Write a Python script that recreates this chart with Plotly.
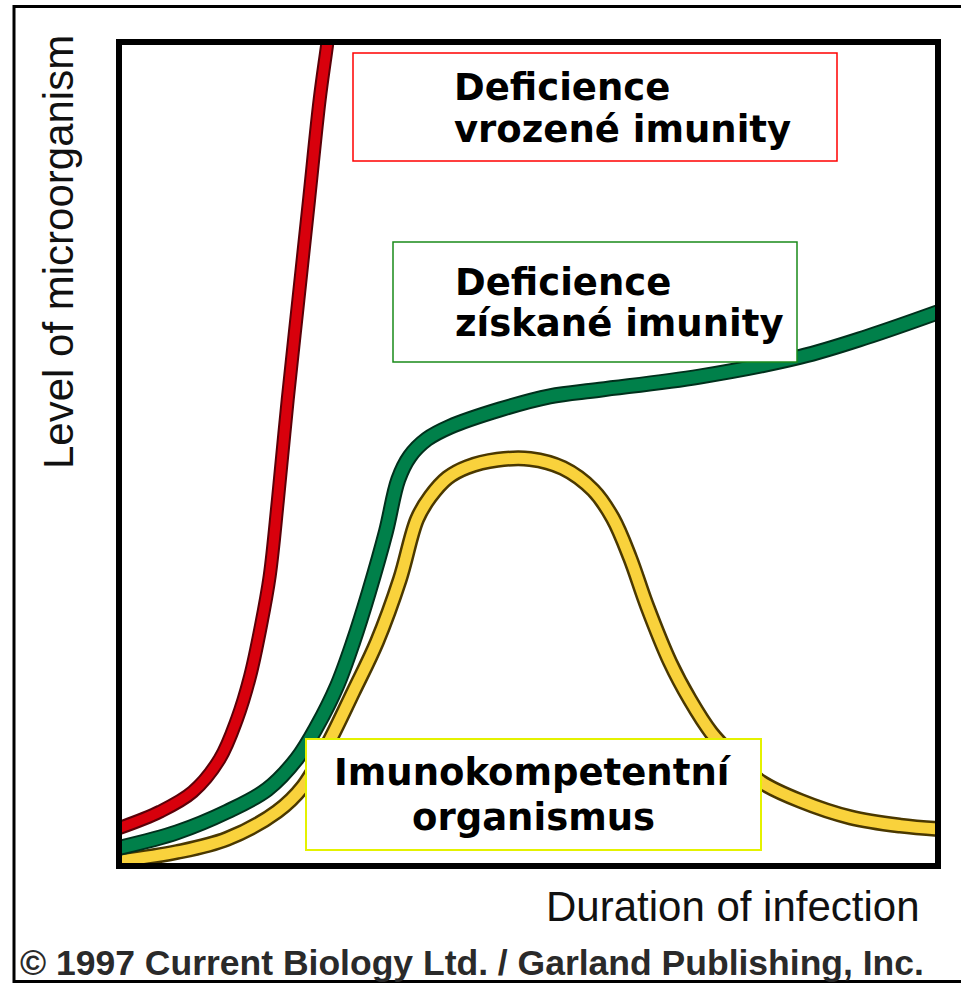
import plotly.graph_objects as go

# ---- data (duration of infection vs. level of microorganism, arbitrary units 0-100) ----
time_red = [0, 5.0, 9.0, 12.3, 14.4, 16.0, 17.3, 18.4, 19.4, 20.6, 21.9, 23.2, 24.5, 25.4, 25.8]
level_red = [4.6, 6.6, 9.0, 13.0, 17.8, 23.0, 29.0, 35.2, 44.4, 56.6, 68.7, 80.8, 93.0, 99.6, 102.7]

time_green = [0, 7.1, 13.2, 18.1, 21.7, 24.2, 26.6, 28.6, 30.5, 32.6, 34.1, 35.5, 37.6, 40.4,
              46.5, 52.6, 58.7, 70.9, 83.2, 91.3, 100]
level_green = [2.2, 4.1, 6.6, 9.3, 13.0, 17.0, 21.8, 27.2, 33.2, 40.6, 46.9, 49.7, 51.8, 53.3,
               55.4, 57.0, 57.8, 59.4, 61.8, 64.2, 67.2]

time_yellow = [0, 7.1, 13.2, 19.3, 22.5, 25.4, 28.6, 31.5, 34.3, 36.4, 38.0, 40.1, 42.5, 46.2,
               50.2, 54.2, 57.9, 60.3, 62.4, 64.5, 67.3, 69.7, 72.3, 75.3, 78.4, 83.2, 89.3,
               95.4, 100]
level_yellow = [0.6, 1.7, 3.3, 6.6, 9.7, 14.6, 21.1, 27.2, 34.8, 42.1, 44.8, 47.1, 48.4, 49.3,
                49.4, 48.3, 45.6, 42.2, 37.4, 31.5, 24.7, 20.2, 16.2, 13.0, 10.2, 7.9, 5.9,
                4.9, 4.5]

label_red = ["Deficience", "vrozené imunity"]
label_green = ["Deficience", "získané imunity"]
label_yellow = ["Imunokompetentní", "organismus"]
x_title = "Duration of infection"
y_title = "Level of microorganism"
credit = "© 1997 Current Biology Ltd. / Garland Publishing, Inc."

# ---- layout geometry ----
W, H = 961, 986
L, R, T, B = 119, 938, 42, 866


def px(x):
    return (x - L) / (R - L)


def py(y):
    return (B - y) / (B - T)


fig = go.Figure()

series = [
    (time_yellow, level_yellow, "#4a3800", "#f9d23c", 16, 11),
    (time_green, level_green, "#00301c", "#00804a", 16, 12),
    (time_red, level_red, "#5a0008", "#d8000c", 14, 10),
]
for xs, ys, dark, fill, w_out, w_in in series:
    fig.add_trace(go.Scatter(x=xs, y=ys, mode="lines",
                             line=dict(color=dark, width=w_out, shape="spline", smoothing=1.0),
                             hoverinfo="skip", showlegend=False))
    fig.add_trace(go.Scatter(x=xs, y=ys, mode="lines",
                             line=dict(color=fill, width=w_in, shape="spline", smoothing=1.0),
                             hoverinfo="skip", showlegend=False))

shapes = []
# outer frame (right side lies outside the page)
shapes.append(dict(type="rect", xref="paper", yref="paper",
                   x0=px(14), x1=px(990), y0=py(981.5), y1=py(6.5),
                   line=dict(color="black", width=3), fillcolor="rgba(0,0,0,0)", layer="above"))
# plot frame
shapes.append(dict(type="rect", xref="paper", yref="paper", x0=0, x1=1, y0=0, y1=1,
                   line=dict(color="black", width=6), fillcolor="rgba(0,0,0,0)", layer="above"))
# label boxes
boxes = [
    ((353, 53, 837, 161), "#ff0000", 1.5),
    ((393, 242, 797, 362), "#1a8a1a", 1.5),
    ((306, 739, 761, 850), "#e4f200", 2),
]
for (x0, y0, x1, y1), col, lw in boxes:
    shapes.append(dict(type="rect", xref="paper", yref="paper",
                       x0=px(x0), x1=px(x1), y0=py(y1), y1=py(y0),
                       line=dict(color=col, width=lw), fillcolor="white", layer="above"))

annotations = []
box_font = dict(family="DejaVu Sans", size=37, color="black")
for txt, (x, y) in zip(label_red, [(452, 87), (452, 130)]):
    annotations.append(dict(text="<b>%s</b>" % txt, x=px(x), y=py(y), xref="paper", yref="paper",
                            xanchor="left", yanchor="middle", showarrow=False, font=box_font))
for txt, (x, y) in zip(label_green, [(453, 282), (453, 324)]):
    annotations.append(dict(text="<b>%s</b>" % txt, x=px(x), y=py(y), xref="paper", yref="paper",
                            xanchor="left", yanchor="middle", showarrow=False, font=box_font))
for txt, (x, y) in zip(label_yellow, [(533, 772), (533, 817)]):
    annotations.append(dict(text="<b>%s</b>" % txt, x=px(x), y=py(y), xref="paper", yref="paper",
                            xanchor="center", yanchor="middle", showarrow=False, font=box_font))

axis_font = dict(family="Liberation Sans", size=42, color="#111111")
annotations.append(dict(text=x_title, x=px(922), y=py(907), xref="paper", yref="paper",
                        xanchor="right", yanchor="middle", showarrow=False, font=axis_font))
annotations.append(dict(text=y_title, x=px(58), y=py(252), xref="paper", yref="paper",
                        xanchor="center", yanchor="middle", textangle=-90, showarrow=False,
                        font=axis_font))
annotations.append(dict(text="<b>%s</b>" % credit, x=px(472), y=py(963), xref="paper", yref="paper",
                        xanchor="center", yanchor="middle", showarrow=False,
                        font=dict(family="Liberation Sans", size=35.5, color="#2a2a2a")))

fig.update_layout(
    width=W, height=H,
    margin=dict(l=L, r=W - R, t=T, b=H - B, pad=0),
    paper_bgcolor="white", plot_bgcolor="white",
    showlegend=False,
    xaxis=dict(range=[0, 100], showgrid=False, zeroline=False, showticklabels=False,
               ticks="", showline=False, fixedrange=True),
    yaxis=dict(range=[0, 100], showgrid=False, zeroline=False, showticklabels=False,
               ticks="", showline=False, fixedrange=True),
    shapes=shapes,
    annotations=annotations,
)

fig.write_html("out.html", config={"displayModeBar": False},
               post_script="document.body.style.margin='0';document.body.style.overflow='hidden';")
